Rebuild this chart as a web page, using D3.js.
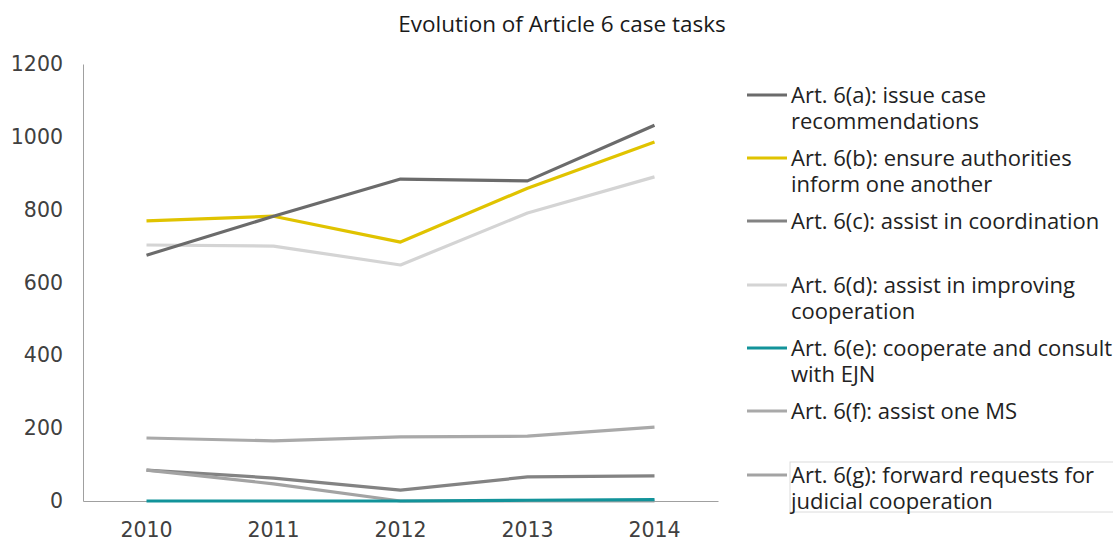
<!DOCTYPE html>
<html><head><meta charset="utf-8">
<script src="https://cdn.jsdelivr.net/npm/d3@7"></script>
<style>body{margin:0;background:#fff}svg{display:block}</style>
</head><body>
<svg id="c" width="1113" height="540"></svg>
<script>
const years = ["2010","2011","2012","2013","2014"];
const yTicks = [0,200,400,600,800,1000,1200];
const seriesNames = [
  ["Art. 6(a): issue case","recommendations"],
  ["Art. 6(b): ensure authorities","inform one another"],
  ["Art. 6(c): assist in coordination"],
  ["Art. 6(d): assist in improving","cooperation"],
  ["Art. 6(e): cooperate and consult","with EJN"],
  ["Art. 6(f): assist one MS"],
  ["Art. 6(g): forward requests for","judicial cooperation"]
];
const valsA = [675, 782, 884, 879, 1032];
const valsB = [769, 782, 711, 859, 986];
const valsC = [85, 63, 30, 66, 69];
const valsD = [703, 700, 648, 791, 890];
const valsE = [0, 0, 0, 2, 4];
const valsF = [173, 165, 176, 178, 203];
const valsG = [85, 47, 0, 0, 0];
const colors = ["#6b6b6b","#e0c300","#838383","#d4d4d4","#12939a","#a9a9a9","#a3a3a3"];
const allVals = [valsA,valsB,valsC,valsD,valsE,valsF,valsG];
// draw order (back to front)
const drawOrder = [3,1,0,5,2,6,4];

(function(){
const svg = d3.select("#c");
const mLeft = 83, mRight = 718, mTop = 64, mBottom = 501;
const x = d3.scaleBand().domain(years).range([mLeft, mRight]);
const y = d3.scaleLinear().domain([0,1200]).range([mBottom, mTop]);
const font = "'Open Sans', sans-serif";
const tickFont = "'DejaVu Sans', sans-serif";

svg.append("text").attr("x", 562).attr("y", 32).attr("text-anchor","middle")
  .attr("font-family", font).attr("font-size", 22.5).attr("fill","#1a1a1a")
  .text("Evolution of Article 6 case tasks");

const yAxis = svg.append("g").attr("transform",`translate(${mLeft},0)`)
  .call(d3.axisLeft(y).tickValues(yTicks).tickFormat(d3.format("d")).tickSize(0).tickPadding(20));
yAxis.select(".domain").attr("stroke","#a0a0a0").attr("stroke-width",1);
yAxis.selectAll("text").attr("font-family",tickFont).attr("font-size",20.5).attr("fill","#404040");

const xAxis = svg.append("g").attr("transform",`translate(0,${mBottom})`)
  .call(d3.axisBottom(x).tickSize(0).tickPadding(21));
xAxis.select(".domain").attr("stroke","#a0a0a0").attr("stroke-width",1);
xAxis.selectAll("text").attr("font-family",tickFont).attr("font-size",20.5).attr("fill","#404040");

const line = d3.line().x((d,i)=>x(years[i])+x.bandwidth()/2).y(d=>y(d));
drawOrder.forEach(k=>{
  svg.append("path").datum(allVals[k]).attr("d", line)
    .attr("fill","none").attr("stroke", colors[k]).attr("stroke-width",3.2)
    .attr("stroke-linejoin","round");
});

const legY = [95,158,221,285,348,411,475];
seriesNames.forEach((lines,k)=>{
  const g = svg.append("g").attr("transform",`translate(0,${legY[k]})`);
  if (k===6) {
    g.append("rect").attr("x",790).attr("y",-13).attr("width",330).attr("height",50)
      .attr("fill","#fff").attr("stroke","#dcdcdc").attr("stroke-width",1);
  }
  g.append("line").attr("x1",747).attr("x2",787).attr("y1",0).attr("y2",0)
    .attr("stroke",colors[k]).attr("stroke-width",3.2);
  lines.forEach((t,j)=>{
    g.append("text").attr("x",791).attr("y",8+j*26)
      .attr("font-family",font).attr("font-size",22).attr("fill","#222").text(t);
  });
});
})();
</script>
</body></html>
